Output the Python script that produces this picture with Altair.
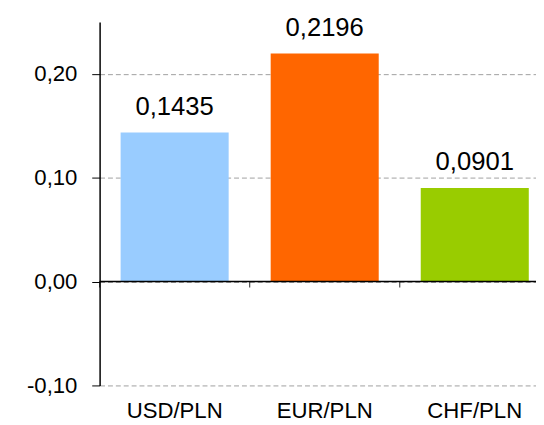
import altair as alt
import pandas as pd

categories = ["USD/PLN", "EUR/PLN", "CHF/PLN"]
values = [0.1435, 0.2196, 0.0901]
colors = ["#99CCFF", "#FF6600", "#99CC00"]
y_ticks = [-0.10, 0.0, 0.10, 0.20]

df = pd.DataFrame({"cat": categories, "val": values})

FONT = "Liberation Sans"
FS = 22.5
FS_VAL = 26

xscale = alt.Scale(domain=categories, paddingInner=0, paddingOuter=0)
yscale = alt.Scale(domain=[-0.10, 0.25], nice=False, zero=False)

fmt = "(datum.value < 0 ? '-' : '') + replace(format(abs(datum.value), '.2f'), '.', ',')"

base = alt.Chart(df)

bars = base.mark_bar(width=alt.RelativeBandSize(0.72)).encode(
    x=alt.X("cat:N", sort=categories, scale=xscale,
            axis=alt.Axis(title=None, domain=False, ticks=False, tickSize=0, labelAngle=0,
                          labelFont=FONT, labelFontSize=FS, labelColor="black",
                          labelBaseline="alphabetic", labelPadding=33)),
    y=alt.Y("val:Q", scale=yscale,
            axis=alt.Axis(title=None, values=y_ticks, labelExpr=fmt,
                          grid=True, gridDash=[5, 3], gridColor="#a0a0a0", gridWidth=1,
                          domainColor="black", domainWidth=1.5,
                          tickColor="black", tickSize=8, tickWidth=1,
                          labelFont=FONT, labelFontSize=FS, labelColor="black",
                          labelPadding=15)),
    color=alt.Color("cat:N", scale=alt.Scale(domain=categories, range=colors), legend=None),
)

texts = base.transform_calculate(
    lab="replace(format(datum.val, '.4f'), '.', ',')"
).mark_text(dy=-18, baseline="alphabetic", font=FONT, fontSize=FS_VAL, color="black").encode(
    x=alt.X("cat:N", sort=categories, scale=xscale),
    y=alt.Y("val:Q", scale=yscale),
    text="lab:N",
)

zero = alt.Chart(pd.DataFrame({"z": [0]})).mark_rule(color="black", strokeWidth=1.5).encode(
    y=alt.Y("z:Q", scale=yscale)
)

zticks = base.mark_tick(orient="vertical", size=6, thickness=1.2, yOffset=3, color="black").encode(
    x=alt.X("cat:N", sort=categories, scale=xscale, bandPosition=0),
    y=alt.datum(0),
)

chart = alt.layer(bars, zero, zticks, texts).properties(
    width=457, height=369,
    autosize=alt.AutoSizeParams(type="none"),
    padding={"left": 93, "top": 11, "right": -14, "bottom": 37},
).configure_view(stroke=None)

chart.save("out.html", embed_options={"renderer": "svg", "actions": False})
